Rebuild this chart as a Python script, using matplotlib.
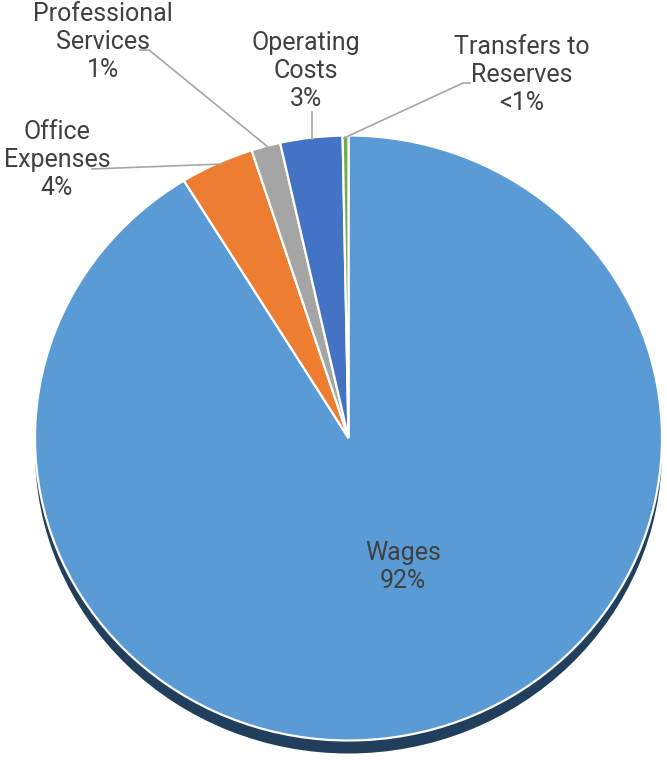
import numpy as np
import matplotlib.pyplot as plt

# slice data, clockwise from 12 o'clock
categories = ['Wages', 'Office\nExpenses', 'Professional\nServices',
              'Operating\nCosts', 'Transfers to\nReserves']
shares = [91.2, 3.8, 1.5, 3.2, 0.3]
pct_labels = ['92%', '4%', '1%', '3%', '<1%']
colors = ['#5b9bd5', '#ed7d31', '#a5a5a5', '#4472c4', '#70ad47']

W, H = 667, 760
CX, CY = 348.5, 438.0   # pie centre in pixels (from top)
RX, RY = 313.5, 302.5   # the source image is slightly squashed


def px(x, y):
    # pixel position -> data units of the pie (radius 1)
    return (x - CX) / RX, (CY - y) / RY


fig = plt.figure(figsize=(W / 100, H / 100), dpi=100)
ax = fig.add_axes([0, 0, 1, 1])

# drop shadow under the pie
ax.pie([1], colors=['#213f5c'], radius=1, center=(0, -13 / RY),
       startangle=90, wedgeprops=dict(linewidth=0))

ax.pie(shares, colors=colors, radius=1, startangle=90, counterclock=False,
       wedgeprops=dict(edgecolor='white', linewidth=1.6))

ax.set_xlim(px(0, 0)[0], px(W, 0)[0])
ax.set_ylim(px(0, H)[1], px(0, 0)[1])
ax.set_aspect('auto')
ax.axis('off')

font = ['Roboto', 'DejaVu Sans']
txt = dict(fontsize=18, color='#404040', ha='center', va='center',
           linespacing=1.2, family=font)

label_pos = [(403, 567), (57, 160), (103, 42), (306, 71), (522, 75)]
for name, pct, (x, y) in zip(categories, pct_labels, label_pos):
    ax.text(*px(x, y), name + '\n' + pct, **txt)

# leader lines
leaders = [
    [(92, 169), (222, 164)],
    [(140, 50), (149, 50), (268, 147)],
    [(312, 112), (312, 139)],
    [(470, 83), (463, 83), (344, 138)],
]
for pts in leaders:
    xs, ys = zip(*[px(x, y) for x, y in pts])
    ax.plot(xs, ys, color='#a6a6a6', linewidth=1.2)

fig.savefig('out.png', dpi=100)
